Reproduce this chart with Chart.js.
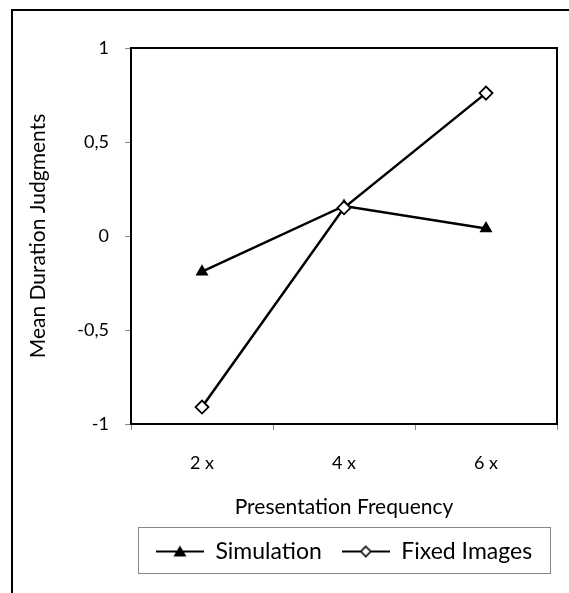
<!DOCTYPE html>
<html>
<head>
<meta charset="utf-8">
<script src="https://cdn.jsdelivr.net/npm/chart.js@4.4.1/dist/chart.umd.min.js"></script>
<style>
  html, body { margin: 0; padding: 0; background: #fff; overflow: hidden; }
  #frame { position: absolute; left: 11px; top: 9px; width: 620px; height: 640px; border: 2px solid #000; }
  #wrap { position: absolute; left: 0; top: 0; width: 569px; height: 593px; }
</style>
</head>
<body>
<div id="frame"></div>
<div id="wrap"><canvas id="chart" width="569" height="593"></canvas></div>
<script>
const categories = ['2 x', '4 x', '6 x'];
const simulation = [-0.19, 0.16, 0.04];
const fixedImages = [-0.91, 0.15, 0.76];
const yMin = -1, yMax = 1, yStep = 0.5;

const FONT = 'Lato, Carlito, "Open Sans", sans-serif';

// little legend icons: line with the marker in the middle
function legendIcon(kind) {
    const c = document.createElement('canvas');
    c.width = 48; c.height = 16;
    const g = c.getContext('2d');
    g.strokeStyle = '#000';
    g.lineWidth = 2;
    g.beginPath(); g.moveTo(0, 8); g.lineTo(48, 8); g.stroke();
    if (kind === 'tri') {
        g.fillStyle = '#000';
        g.beginPath(); g.moveTo(24, 2); g.lineTo(30.5, 13); g.lineTo(17.5, 13); g.closePath(); g.fill();
    } else {
        g.fillStyle = '#fff';
        g.lineWidth = 1.6;
        g.beginPath(); g.moveTo(24, 3); g.lineTo(29, 8); g.lineTo(24, 13); g.lineTo(19, 8); g.closePath();
        g.fill(); g.stroke();
    }
    return c;
}
const icons = [legendIcon('tri'), legendIcon('dia')];

// plot area frame + box around the legend
const framePlugin = {
    id: 'framePlugin',
    afterDraw(chart) {
        const ctx = chart.ctx;
        const a = chart.chartArea;
        ctx.save();
        ctx.strokeStyle = '#000';
        ctx.lineWidth = 2;
        ctx.beginPath();
        ctx.moveTo(a.left, a.top); ctx.lineTo(a.right, a.top); ctx.lineTo(a.right, a.bottom);
        ctx.stroke();
        const hb = chart.legend.legendHitBoxes;
        if (hb && hb.length) {
            const l = Math.min(...hb.map(h => h.left)) - 18;
            const r = Math.max(...hb.map(h => h.left + h.width)) + 18;
            const t = hb[0].top - 13;
            const b = hb[0].top + hb[0].height + 10;
            ctx.strokeStyle = '#888';
            ctx.lineWidth = 1;
            ctx.strokeRect(Math.round(l) + 0.5, Math.round(t) + 0.5, Math.round(r - l), Math.round(b - t));
        }
        ctx.restore();
    }
};

new Chart(document.getElementById('chart'), {
    type: 'line',
    data: {
        labels: categories,
        datasets: [
            {
                label: 'Simulation',
                data: simulation,
                order: 1,
                borderColor: '#000',
                backgroundColor: '#000',
                borderWidth: 2.5,
                pointStyle: 'triangle',
                pointRadius: 7.5,
                pointBorderWidth: 0,
                pointBackgroundColor: '#000',
                tension: 0
            },
            {
                label: 'Fixed Images',
                data: fixedImages,
                order: 0,
                borderColor: '#000',
                backgroundColor: '#fff',
                borderWidth: 2.5,
                pointStyle: 'rectRot',
                pointRadius: 6.5,
                pointBorderWidth: 1.8,
                pointBackgroundColor: '#fff',
                pointBorderColor: '#000',
                tension: 0
            }
        ]
    },
    options: {
        responsive: false,
        animation: false,
        layout: { padding: { left: 14, top: 48, right: 12, bottom: 20 } },
        plugins: {
            tooltip: { enabled: false },
            legend: {
                position: 'bottom',
                fullSize: false,
                labels: {
                    usePointStyle: true,
                    pointStyleWidth: 48,
                    color: '#000',
                    font: { family: FONT, size: 23 },
                    padding: 20,
                    generateLabels: chart => chart.data.datasets.map((ds, i) => ({
                        text: ds.label,
                        pointStyle: icons[i],
                        fillStyle: '#000',
                        strokeStyle: '#000',
                        lineWidth: 0,
                        hidden: false,
                        datasetIndex: i,
                        fontColor: '#000'
                    }))
                }
            }
        },
        scales: {
            x: {
                offset: true,
                grid: { offset: true, drawOnChartArea: false, drawTicks: true, tickLength: 6, color: '#888' },
                border: { display: true, color: '#000', width: 2 },
                ticks: { color: '#000', font: { family: FONT, size: 18 }, padding: 22 },
                title: { display: true, text: 'Presentation Frequency', color: '#000',
                         font: { family: FONT, size: 21 }, padding: { top: 14, bottom: 0 } },
                afterFit: s => { s.height = 96; }
            },
            y: {
                min: yMin,
                max: yMax,
                grid: { drawOnChartArea: false, drawTicks: true, tickLength: 6, color: '#888' },
                border: { display: true, color: '#000', width: 2 },
                ticks: {
                    stepSize: yStep,
                    color: '#000',
                    font: { family: FONT, size: 18 },
                    padding: 16,
                    callback: v => String(v).replace('.', ',')
                },
                title: { display: true, text: 'Mean Duration Judgments', color: '#000',
                         font: { family: FONT, size: 21 }, padding: { top: 12, bottom: 0 } },
                afterFit: s => { s.width = 131 - 14; }
            }
        }
    },
    plugins: [framePlugin]
});
</script>
</body>
</html>
